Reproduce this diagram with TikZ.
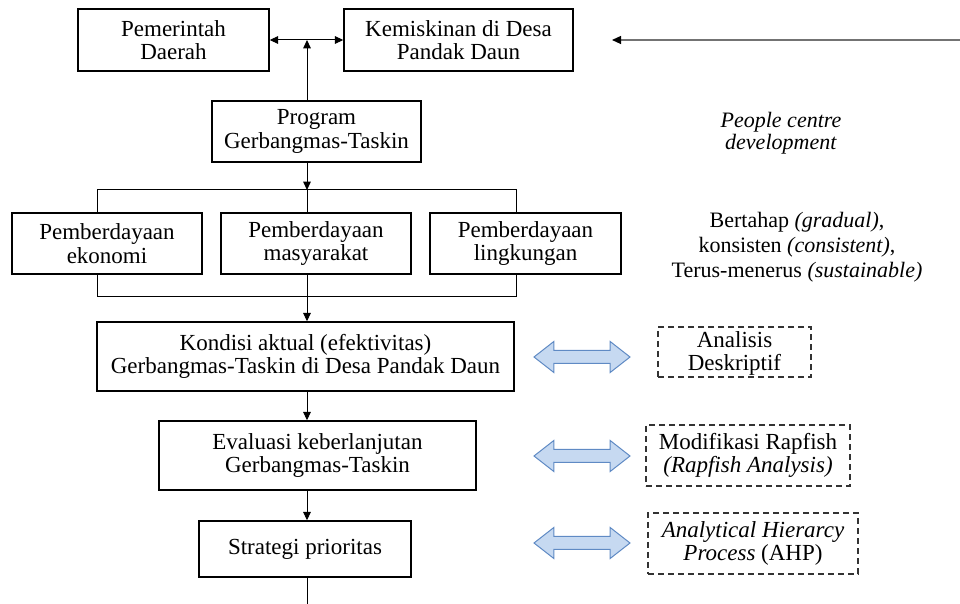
\documentclass[tikz,border=0pt]{standalone}
\usepackage{fontspec}
\setmainfont{Liberation Serif}
\usepackage{xcolor}
\usepackage{tikz}
\usetikzlibrary{positioning, shapes.geometric, shapes.arrows}
\usetikzlibrary{calc, arrows.meta}
\definecolor{isibiru}{RGB}{198,217,241}
\definecolor{garisbiru}{RGB}{95,138,196}
\tikzstyle{kotak} = [rectangle, inner sep=1pt, line width=0.7pt, text centered, align=center, draw=black]
\tikzstyle{putus} = [rectangle, inner sep=1pt, line width=0.6pt, dash pattern=on 3pt off 2pt, text centered, align=center, draw=black!80]
\tikzstyle{panah} = [double arrow, draw=garisbiru, fill=isibiru, line width=0.5pt, inner sep=3pt, minimum height=48pt, double arrow head extend=4.5pt, double arrow tip angle=76]
\tikzstyle{arrow} = [line width=0.5pt,->,>={Triangle[length=4.2pt,width=3.8pt]}]
\tikzstyle{garis} = [line width=0.5pt]
\tikzstyle{every node}=[font=\fontsize{11.5}{11.8}\selectfont]

\begin{document}
\begin{tikzpicture}[x=0.5pt, y=-0.5pt, node distance=104.5pt]
		\useasboundingbox (0,0) rectangle (960,604);
		\coordinate (batang) at (307,0);
		\coordinate (kiriatas) at (97,190);
		\coordinate (kananatas) at (516,190);
		\coordinate (kiribawah) at (97,297);
		\coordinate (kananbawah) at (516,297);
		\coordinate (dasar) at (307,604);
		\coordinate (kanan) at (960,40);
		\coordinate (ujung) at (612,40);
		
		\node (pemda) [kotak, minimum width=95.5pt, minimum height=31pt] at (173.5,40) {Pemerintah\\Daerah};
		\node (miskin) [kotak, minimum width=114.5pt, minimum height=31pt, right of=pemda, node distance=142.5pt] {Kemiskinan di Desa\\Pandak Daun};
		\node (program) [kotak, minimum width=104.5pt, minimum height=30.5pt] at (316.5,131.5) {Program\\Gerbangmas-Taskin};
		
		\node (ekonomi) [kotak, minimum width=95pt, minimum height=30.5pt] at (107,243.5) {Pemberdayaan\\ekonomi};
		\node (masyarakat) [kotak, minimum width=95pt, minimum height=30.5pt, right of=ekonomi] {Pemberdayaan\\masyarakat};
		\node (lingkungan) [kotak, minimum width=95.5pt, minimum height=30.5pt, right of=masyarakat, xshift=0.25pt] {Pemberdayaan\\lingkungan};
		
		\node (kondisi) [kotak, minimum width=208.5pt, minimum height=34.5pt] at (305.5,356.5) {Kondisi aktual (efektivitas)\\Gerbangmas-Taskin di Desa Pandak Daun};
		\node (evaluasi) [kotak, minimum width=158.5pt, minimum height=34.5pt] at (317.5,455.5) {Evaluasi keberlanjutan\\Gerbangmas-Taskin};
		\node (strategi) [kotak, minimum width=106pt, minimum height=28pt] at (305,549) {Strategi prioritas};
		
		%sisi kanan
		\node (people) [font=\fontsize{11}{11}\selectfont, align=center] at (781,133) {\textit{People centre}\\\textit{development}};
		\node (bertahap) [font=\fontsize{11}{12.5}\selectfont, align=center] at (797,247) {Bertahap \textit{(gradual)},\\konsisten \textit{(consistent)},\\Terus-menerus \textit{(sustainable)}};
		
		\node (analisis) [putus, minimum width=76.5pt, minimum height=25pt, text depth=1pt] at (734.5,352) {Analisis\\Deskriptif};
		\node (rapfish) [putus, minimum width=102pt, minimum height=30.5pt] at (748,455.5) {Modifikasi Rapfish\\\textit{(Rapfish Analysis)}};
		\node (ahp) [putus, minimum width=105pt, minimum height=30.5pt] at (753,543.5) {\textit{Analytical Hierarcy}\\\textit{Process} (AHP)};
		
		\node (biru1) [panah] at (582,357) {};
		\node (biru2) [panah] at (582,456) {};
		\node (biru3) [panah] at (582,543) {};
		
		%panah atas
		\draw [arrow, <->](pemda.east) -- (miskin.west);
		\draw [arrow](program.north -| batang) -- (batang |- pemda.east);
		\draw [line width=0.6pt, draw=black!55, -{Triangle[length=4.5pt,width=4pt,color=black]}](kanan) -- (ujung);
		
		%percabangan pemberdayaan
		\draw [arrow](program.south -| batang) -- (kiriatas -| batang);
		\draw [garis](ekonomi.north -| kiriatas) -- (kiriatas) -- (kananatas) -- (lingkungan.north -| kananatas);
		\draw [garis](kiriatas -| batang) -- (masyarakat.north -| batang);
		\draw [garis](ekonomi.south -| kiribawah) -- (kiribawah) -- (kananbawah) -- (lingkungan.south -| kananbawah);
		\draw [arrow](masyarakat.south -| batang) -- (kondisi.north -| batang);
		
		\draw [arrow](kondisi.south -| batang) -- (evaluasi.north -| batang);
		\draw [arrow](evaluasi.south -| batang) -- (strategi.north -| batang);
		\draw [garis](strategi.south -| batang) -- (dasar);
		
	\end{tikzpicture}
\end{document}
